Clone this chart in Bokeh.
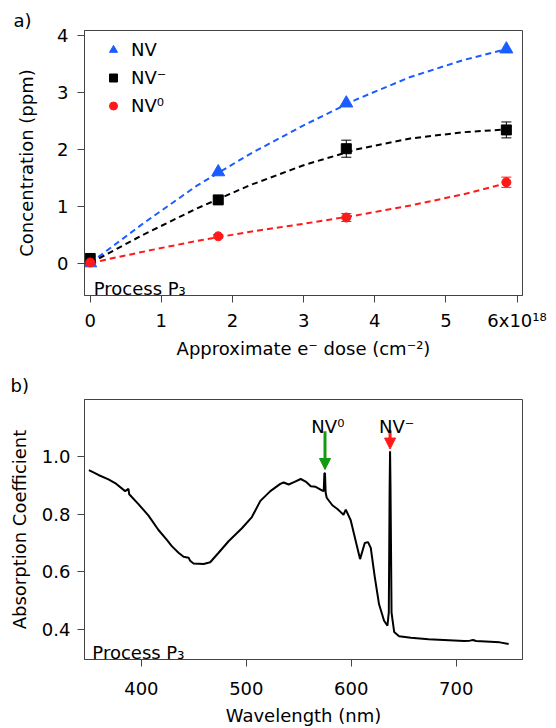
from bokeh.plotting import figure
from bokeh.layouts import column
from bokeh.models import (Range1d, FixedTicker, Label, Legend, LegendItem, Whisker,
                          TeeHead, Arrow, NormalHead, ColumnDataSource, Title)
from bokeh.embed import file_html
from bokeh.resources import INLINE

FONT = "DejaVu Sans"

# ---------------- Panel a data ----------------
dose = [0.0, 1.8, 3.6, 5.85]
nv_total = [0.0, 1.60, 2.81, 3.76]
nv_minus = [0.08, 1.11, 2.01, 2.34]
nv_minus_err = [0.03, 0.05, 0.15, 0.14]
nv_zero = [0.01, 0.47, 0.80, 1.42]
nv_zero_err = [0.02, 0.03, 0.07, 0.09]

fit_dose = [0.0, 0.75, 1.5, 2.25, 3.0, 3.75, 4.5, 5.25, 5.85]
fit_total = [0.0, 0.70, 1.36, 1.92, 2.42, 2.88, 3.27, 3.57, 3.76]
fit_minus = [0.0, 0.50, 0.96, 1.37, 1.72, 2.00, 2.19, 2.30, 2.35]
fit_zero = [0.0, 0.20, 0.39, 0.55, 0.69, 0.84, 1.01, 1.21, 1.40]

dose_ticks = [0, 1, 2, 3, 4, 5, 6]
dose_tick_labels = ["0", "1", "2", "3", "4", "5", "6x10¹⁸"]
conc_ticks = [0, 1, 2, 3, 4]

# ---------------- Panel b data ----------------
wavelength = [350.0, 359.1, 368.6, 375.0, 384.5, 387.7, 388.4, 397.2, 406.8, 416.3,
              424.3, 429.0, 435.4, 440.2, 445.0, 446.5, 449.7, 459.3, 465.6, 473.6,
              483.1, 495.8, 505.3, 513.4, 522.9, 532.4, 535.6, 540.4, 546.0, 551.8,
              556.6, 561.4, 566.1, 572.5, 573.8, 574.4, 575.0, 575.6, 576.6, 582.0,
              586.8, 590.0, 592.6, 594.8, 599.5, 604.3, 608.4, 612.9, 616.0, 618.6,
              622.4, 626.5, 631.3, 634.5, 635.8, 636.6, 637.0, 637.4, 638.4, 640.9,
              645.6, 656.8, 673.6, 707.6, 713.0, 716.1, 719.0, 741.6, 750.0]
absorption = [0.953, 0.936, 0.921, 0.908, 0.880, 0.888, 0.869, 0.835, 0.795, 0.745,
              0.711, 0.689, 0.666, 0.652, 0.649, 0.638, 0.629, 0.627, 0.633, 0.666,
              0.706, 0.751, 0.790, 0.846, 0.880, 0.905, 0.910, 0.903, 0.912, 0.922,
              0.913, 0.897, 0.895, 0.882, 0.880, 0.942, 0.942, 0.875, 0.857, 0.831,
              0.818, 0.807, 0.798, 0.816, 0.779, 0.706, 0.644, 0.700, 0.703, 0.683,
              0.582, 0.487, 0.430, 0.413, 0.460, 0.900, 1.018, 0.900, 0.458, 0.391,
              0.376, 0.371, 0.366, 0.360, 0.361, 0.363, 0.360, 0.355, 0.349]

wl_ticks = [400, 500, 600, 700]
abs_ticks = [0.4, 0.6, 0.8, 1.0]
abs_tick_labels = ["0.4", "0.6", "0.8", "1.0"]

zpl_nv0 = 575.0
zpl_nvm = 637.0

BLUE = "#1a5cff"
RED = "#ff1a1a"
GREEN = "#129a12"
AX = "#444444"


def style(p, tick_standoffs, label_standoffs):
    p.xgrid.visible = False
    p.ygrid.visible = False
    p.outline_line_color = AX
    p.outline_line_width = 1
    p.background_fill_color = "white"
    p.border_fill_color = "white"
    for ax, ts, ls in zip([p.xaxis[0], p.yaxis[0]], tick_standoffs, label_standoffs):
        ax.axis_line_color = AX
        ax.major_tick_line_color = AX
        ax.minor_tick_line_color = None
        ax.major_tick_out = 7
        ax.major_tick_in = 0
        ax.major_label_text_font = FONT
        ax.major_label_text_font_size = "18px"
        ax.major_label_text_color = "black"
        ax.major_label_standoff = ts
        ax.axis_label_text_font = FONT
        ax.axis_label_text_font_size = "18px"
        ax.axis_label_text_font_style = "normal"
        ax.axis_label_text_color = "black"
        ax.axis_label_standoff = ls


def panel_title(text, offset, standoff):
    return Title(text=text, align="left", offset=offset, standoff=standoff,
                 text_font=FONT, text_font_size="18px", text_font_style="normal",
                 text_color="black")


# ---------------- Panel a ----------------
pa = figure(width=548, height=368,
            x_range=Range1d(-0.080, 6.077), y_range=Range1d(-0.571, 4.088),
            output_backend="svg", toolbar_location=None,
            min_border_left=83, min_border_right=26, min_border_top=30, min_border_bottom=73)
pa.title = panel_title("a)", -71, 0)
style(pa, (7, 9), (4, 17))
pa.xaxis.ticker = FixedTicker(ticks=dose_ticks)
pa.xaxis.major_label_overrides = {t: l for t, l in zip(dose_ticks, dose_tick_labels)}
pa.yaxis.ticker = FixedTicker(ticks=conc_ticks)
pa.xaxis.axis_label = "Approximate e⁻ dose (cm⁻²)"
pa.yaxis.axis_label = "Concentration (ppm)"

pa.line(fit_dose, fit_total, line_color=BLUE, line_width=2, line_dash="6 4")
pa.line(fit_dose, fit_minus, line_color="black", line_width=2, line_dash="6 4")
pa.line(fit_dose, fit_zero, line_color=RED, line_width=2, line_dash="6 4")

src_m = ColumnDataSource(dict(x=dose, up=[v + e for v, e in zip(nv_minus, nv_minus_err)],
                              lo=[v - e for v, e in zip(nv_minus, nv_minus_err)]))
src_z = ColumnDataSource(dict(x=dose, up=[v + e for v, e in zip(nv_zero, nv_zero_err)],
                              lo=[v - e for v, e in zip(nv_zero, nv_zero_err)]))
pa.add_layout(Whisker(source=src_m, base="x", upper="up", lower="lo", line_color="black",
                      line_width=1,
                      upper_head=TeeHead(size=10, line_color="black", line_width=1),
                      lower_head=TeeHead(size=10, line_color="black", line_width=1)))
pa.add_layout(Whisker(source=src_z, base="x", upper="up", lower="lo", line_color=RED,
                      line_width=1,
                      upper_head=TeeHead(size=10, line_color=RED, line_width=1),
                      lower_head=TeeHead(size=10, line_color=RED, line_width=1)))

r_tot = pa.scatter(dose, nv_total, marker="triangle", size=13, color=BLUE)
r_min = pa.scatter(dose, nv_minus, marker="square", size=10, color="black")
r_zer = pa.scatter(dose, nv_zero, marker="circle", size=9, color=RED)

legend = Legend(items=[LegendItem(label="NV", renderers=[r_tot]),
                       LegendItem(label="NV⁻", renderers=[r_min]),
                       LegendItem(label="NV⁰", renderers=[r_zer])],
                location=(19, 179), padding=0, margin=0, spacing=7,
                glyph_width=20, glyph_height=21, label_height=21, label_standoff=8,
                label_text_font=FONT, label_text_font_size="18px",
                label_text_color="black",
                background_fill_alpha=0, border_line_color=None)
pa.add_layout(legend)

pa.add_layout(Label(x=0.05, y=-0.453, text="Process P₃", text_font=FONT,
                    text_font_size="18px", text_baseline="alphabetic",
                    text_color="black"))

# ---------------- Panel b ----------------
pb = figure(width=548, height=360,
            x_range=Range1d(345.8, 763.2), y_range=Range1d(0.2955, 1.198),
            output_backend="svg", toolbar_location=None,
            min_border_left=84, min_border_right=26, min_border_top=29, min_border_bottom=63)
pb.title = panel_title("b)", -74, 8)
style(pb, (15, 7), (7, 9))
pb.xaxis.ticker = FixedTicker(ticks=wl_ticks)
pb.yaxis.ticker = FixedTicker(ticks=abs_ticks)
pb.yaxis.major_label_overrides = {t: l for t, l in zip(abs_ticks, abs_tick_labels)}
pb.xaxis.axis_label = "Wavelength (nm)"
pb.yaxis.axis_label = "Absorption Coefficient"

pb.line(wavelength, absorption, line_color="black", line_width=2)

pb.add_layout(Arrow(x_start=zpl_nv0, y_start=1.0876, x_end=zpl_nv0, y_end=0.955,
                    line_color=GREEN, line_width=3,
                    end=NormalHead(size=11, fill_color=GREEN, line_color=GREEN, line_width=1)))
pb.add_layout(Arrow(x_start=zpl_nvm, y_start=1.091, x_end=zpl_nvm, y_end=1.026,
                    line_color=RED, line_width=3,
                    end=NormalHead(size=11, fill_color=RED, line_color=RED, line_width=1)))

pb.add_layout(Label(x=562.0, y=1.1045, text="NV⁰", text_font=FONT,
                    text_font_size="18px", text_baseline="alphabetic", text_color="black"))
pb.add_layout(Label(x=626.5, y=1.1045, text="NV⁻", text_font=FONT,
                    text_font_size="18px", text_baseline="alphabetic", text_color="black"))
pb.add_layout(Label(x=353.3, y=0.3215, text="Process P₃", text_font=FONT,
                    text_font_size="18px", text_baseline="alphabetic", text_color="black"))

layout = column(pa, pb, spacing=0)
open("out.html", "w").write(file_html(layout, INLINE))
